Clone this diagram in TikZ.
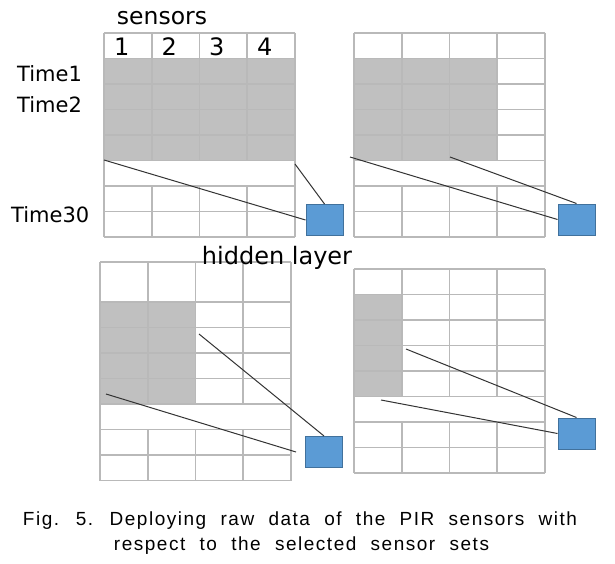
\documentclass[tikz,border=0pt]{standalone}
\usepackage{fontspec}
\setmainfont{DejaVu Sans}
\newfontfamily\captionfont[LetterSpace=8,WordSpace=2.1]{Liberation Sans}
\usetikzlibrary{positioning}
\definecolor{cellgrey}{RGB}{192,192,192}
\definecolor{gridline}{RGB}{185,185,185}
\definecolor{hidfill}{RGB}{91,155,213}
\definecolor{hidedge}{RGB}{65,113,156}
\tikzset{%
	gridln/.style = {draw=gridline, line width=1.6pt},
	hidden/.style = {draw=hidedge, fill=hidfill, line width=1pt, minimum width=37pt, minimum height=31pt, inner sep=0pt},
	wire/.style   = {draw=black!80, line width=1pt},
	lbl/.style    = {font=\fontsize{21}{24}\selectfont, inner sep=0pt},
	digit/.style  = {font=\fontsize{24}{26}\selectfont, inner sep=0pt, anchor=base west},
	caption/.style= {font=\captionfont\fontsize{19}{24}\selectfont, inner sep=0pt, anchor=base},
}
% one block of sensor data: #1,#2 top left corner, #3 first row height, #4 grey columns
\newcommand{\pirgrid}[4]{%
	\begin{scope}[shift={(#1,#2)}]
		\fill[cellgrey] (0,#3) rectangle (#4*47.75,#3+102);
		\draw[gridln] (0,0) -- (191,0);
		\foreach \k in {0,...,7} \draw[gridln] (0,#3+\k*25.5) -- (191,#3+\k*25.5);
		\draw[gridln] (0,0) -- (0,#3+178.5);
		\draw[gridln] (191,0) -- (191,#3+178.5);
		\foreach \c in {1,2,3} {
			\draw[gridln] (\c*47.75,0) -- (\c*47.75,#3+102);
			\draw[gridln] (\c*47.75,#3+127.5) -- (\c*47.75,#3+178.5);
		}
	\end{scope}}

\begin{document}
\begin{tikzpicture}[x=1pt,y=-1pt]
			\useasboundingbox (0,0) rectangle (615,564);
			\fill[white] (0,0) rectangle (615,564);
			
			\pirgrid{104}{33}{25.5}{4}
			\pirgrid{354}{33}{25.5}{3}
			\pirgrid{100}{262}{40}{2}
			\pirgrid{354}{269}{25.5}{1}
			
			\node[lbl,font=\fontsize{23.5}{26}\selectfont,anchor=base] (sens) at (162,25) {sensors};
			\node[digit] (s1) at (114,56) {1};
			\node[digit] (s2) at (161.5,56) {2};
			\node[digit] (s3) at (209,56) {3};
			\node[digit] (s4) at (257,56) {4};
			\node[lbl,anchor=base west] (t1) at (17,82) {Time1};
			\node[lbl,anchor=base west] (t2) at (17,113) {Time2};
			\node[lbl,anchor=base west] (t30) at (11,222) {Time30};
			\node[lbl,font=\fontsize{24}{26}\selectfont,anchor=base] (hidlab) at (277,264) {hidden layer};
			
			\node[hidden] (hid1) at (324.5,220) {};
			\node[hidden] (hid2) at (576.5,219.5) {};
			\node[hidden] (hid3) at (324,452) {};
			\node[hidden] (hid4) at (576.5,433.5) {};
			
			\coordinate (g1a) at (104,160);
			\coordinate (g1b) at (295,164);
			\coordinate (g2a) at (350,157);
			\coordinate (g2b) at (450,157);
			\coordinate (g3a) at (106,394);
			\coordinate (g3b) at (199,334);
			\coordinate (g3e) at (296,452);
			\coordinate (g4a) at (381,400);
			\coordinate (g4b) at (406,349);
			
			\draw[wire] (g1a) -- (hid1.west);
			\draw[wire] (g1b) -- (hid1.north);
			\draw[wire] (g2a) -- (hid2.west);
			\draw[wire] (g2b) -- (hid2.north);
			\draw[wire] (g3a) -- (g3e);
			\draw[wire] (g3b) -- (hid3.north);
			\draw[wire] (g4a) -- (hid4.west);
			\draw[wire] (g4b) -- (hid4.north);
			
			\node[caption] (cap1) at (300,525) {Fig. 5. Deploying raw data of the PIR sensors with};
			\node[caption] (cap2) at (301.5,550) {respect to the selected sensor sets};
\end{tikzpicture}
\end{document}
